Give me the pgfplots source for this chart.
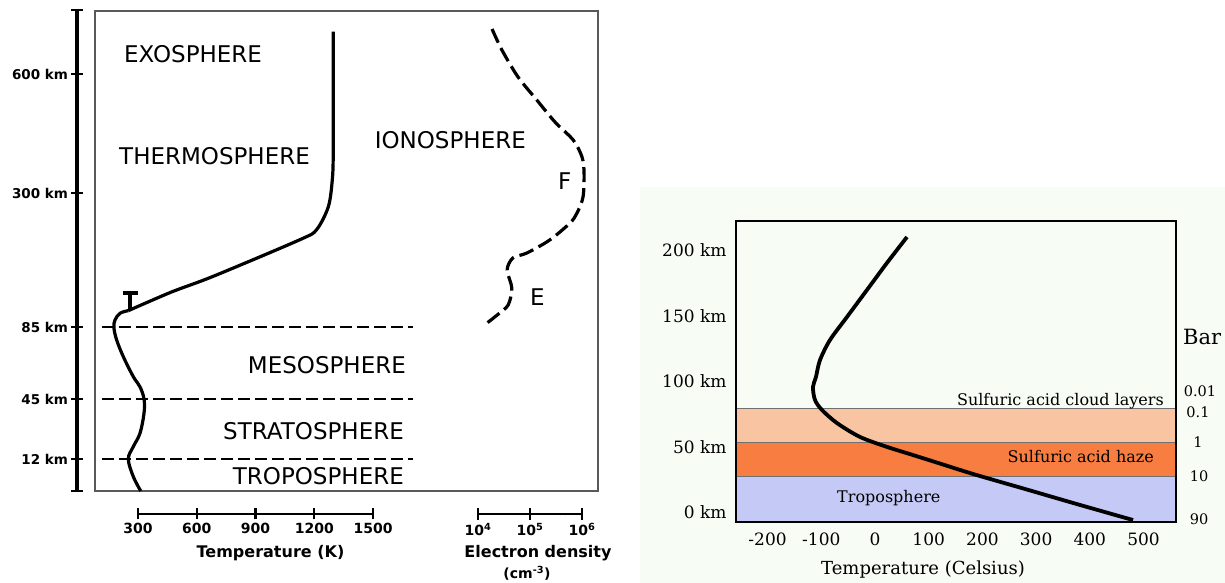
\documentclass[border=0pt]{standalone}
\usepackage{pgfplots}
\pgfplotsset{compat=1.18}
\usepackage{fontspec}
\setmainfont{DejaVu Sans}
\newfontfamily\dserif{DejaVu Serif}
\definecolor{boxgray}{HTML}{595959}
\definecolor{mint}{HTML}{F7FCF5}
\definecolor{peach}{HTML}{F9C4A2}
\definecolor{haze}{HTML}{F77D41}
\definecolor{tropo}{HTML}{C5C9F5}
\definecolor{bandline}{HTML}{707070}
% schematic (piecewise linear) altitude scale of the Earth panel, km -> position
\pgfplotsset{alttrafo/.style={y coord trafo/.code={\pgfmathparse{2.6667*min(##1,12)+1.81818*max(0,min(##1,45)-12)+1.8*max(0,min(##1,85)-45)+0.62326*max(0,min(##1,300)-85)+0.39667*max(0,##1-300)}}}}
\newcommand\bigfont{\fontsize{23}{27}\selectfont}
\begin{document}
\begin{tikzpicture}[x=1pt,y=1pt]
\path[use as bounding box, fill=white] (0,0) rectangle (1225,583);
\fill[mint] (640,0) rectangle (1225,396);

% ---------- Earth: temperature profile ----------
\begin{axis}[at={(95pt,92pt)}, anchor=south west, scale only axis,
  width=503pt, height=480pt, xmin=80.4, xmax=2649, alttrafo, ymin=0, ymax=758.8,
  xtick=\empty, ytick=\empty, axis line style={draw=boxgray, line width=2.2pt}, clip=false]
\addplot[black, line width=2pt, dash pattern=on 12pt off 5pt] coordinates {(116,85) (1704,85)};
\addplot[black, line width=2pt, dash pattern=on 12pt off 5pt] coordinates {(116,45) (1704,45)};
\addplot[black, line width=2pt, dash pattern=on 12pt off 5pt] coordinates {(116,12) (1704,12)};
\addplot[black, line width=3.2pt, smooth, tension=0.6] coordinates {
 (314,0) (276,5.4) (250.5,12) (276,18.8) (310,26.1) (330.6,37.1) (330.6,45)
 (310,51.8) (276,57.4) (225,68.5) (191,77.8) (177,84.6) (182.6,96.2) (208,107) (250.5,111.2)};
\addplot[black, line width=3.2pt, smooth, tension=0.5] coordinates {
 (250.5,111.2) (470,141) (688,166.8) (1127,225.1) (1212,241.2) (1272,278) (1292,332.8) (1297,408.4) (1297,706.6)};
\addplot[black, line width=4pt] coordinates {(259,111.2) (259,139.6)};
\addplot[black, line width=4pt] coordinates {(221,139.6) (298,139.6)};
\end{axis}

% ---------- Earth: electron density ----------
\begin{axis}[at={(95pt,92pt)}, anchor=south west, scale only axis,
  width=503pt, height=480pt, xmode=log, xmin=4.315e-4, xmax=2.031e6, alttrafo, ymin=0, ymax=758.8, hide axis]
\addplot[black, line width=3.2pt, smooth, dash pattern=on 15pt off 6pt] coordinates {
 (18620,713.4) (28840,660.4) (58880,592.4) (134900,534.5) (302000,479) (676100,433.6)
 (1000000,390.8) (1096000,350.4) (1047000,293.6) (802000,267.9) (588800,251.9) (239900,224.6)
 (87100,203.7) (46770,195.7) (36310,176.5) (44670,147.6) (38020,120.3) (23440,104.3) (12590,86.6)};
\end{axis}

% ---------- Earth: altitude scale ----------
\begin{axis}[at={(77pt,92pt)}, anchor=south west, scale only axis, width=10pt, height=481pt,
  xmin=0, xmax=1, alttrafo, ymin=0, ymax=761.3,
  axis x line=none, axis y line*=left, y axis line style={line width=4pt},
  ytick={12,45,85,300,600}, yticklabels={12 km,45 km,85 km,300 km,600 km},
  extra y ticks={0,761.3}, extra y tick labels={},
  major tick length=11pt, ytick align=center, tick style={line width=2.4pt, black},
  yticklabel style={font=\bfseries\fontsize{13.5}{16}\selectfont}]
\end{axis}

% ---------- Earth: temperature scale ----------
\begin{axis}[at={(138pt,69pt)}, anchor=south west, scale only axis, width=235pt, height=10pt,
  xmin=300, xmax=1500, ymin=0, ymax=1, axis y line=none, axis x line*=bottom,
  x axis line style={line width=2.6pt},
  xtick={300,600,900,1200,1500}, xticklabels={300,600,900,1200,1500},
  major tick length=11pt, xtick align=center, tick style={line width=2.2pt, black},
  xticklabel style={font=\bfseries\fontsize{14}{17}\selectfont},
  xlabel={Temperature (K)},
  xlabel style={font=\bfseries\fontsize{16}{19}\selectfont, at={(axis description cs:0.5,0)}, anchor=base, yshift=-44pt, xshift=15pt}]
\end{axis}

% ---------- Earth: electron density scale ----------
\begin{axis}[at={(478pt,69pt)}, anchor=south west, scale only axis, width=104pt, height=10pt,
  xmode=log, xmin=1e4, xmax=1e6, ymin=0, ymax=1, axis y line=none, axis x line*=bottom,
  x axis line style={line width=2.6pt},
  xtick={1e4,1e5,1e6}, xticklabels={10\textsuperscript{4},10\textsuperscript{5},10\textsuperscript{6}},
  major tick length=11pt, xtick align=center, tick style={line width=2.2pt, black},
  xticklabel style={font=\bfseries\fontsize{14}{17}\selectfont},
  xlabel={Electron density},
  xlabel style={font=\bfseries\fontsize{16}{19}\selectfont, at={(axis description cs:0.5,0)}, anchor=base, yshift=-43pt, xshift=8pt}]
\end{axis}
\node[anchor=base, inner sep=0, font=\bfseries\fontsize{14}{17}\selectfont] at (527,4) {(cm\textsuperscript{-3})};

% Earth labels
\node[anchor=base west, inner sep=0, font=\bigfont] at (124,520.5) {EXOSPHERE};
\node[anchor=base west, inner sep=0, font=\bigfont] at (119,418) {THERMOSPHERE};
\node[anchor=base east, inner sep=0, font=\bigfont] at (526,434) {IONOSPHERE};
\node[anchor=base west, inner sep=0, font=\bigfont] at (558,393) {F};
\node[anchor=base west, inner sep=0, font=\bigfont] at (530,277.3) {E};
\node[anchor=base east, inner sep=0, font=\bigfont] at (406,209) {MESOSPHERE};
\node[anchor=base east, inner sep=0, font=\bigfont] at (404,143) {STRATOSPHERE};
\node[anchor=base east, inner sep=0, font=\bigfont] at (404,98) {TROPOSPHERE};

% ---------- Venus ----------
\begin{axis}[at={(736pt,61pt)}, anchor=south west, scale only axis, width=440pt, height=301pt,
  xmin=-258.8, xmax=560.5, ymin=-7.3, ymax=222.4, axis on top,
  axis line style={line width=2.4pt},
  xtick={-200,-100,0,100,200,300,400,500}, xticklabels={-200,-100,0,100,200,300,400,500},
  ytick={0,50,100,150,200}, yticklabels={0 km,50 km,100 km,150 km,200 km},
  major tick length=0pt,
  tick label style={font=\dserif\fontsize{17}{20}\selectfont},
  xticklabel style={yshift=-7pt}, yticklabel style={xshift=-6pt},
  xlabel={Temperature (Celsius)},
  xlabel style={font=\dserif\fontsize{18}{21}\selectfont, at={(axis description cs:0.5,0)}, anchor=base, yshift=-52pt, xshift=-33pt}]
\addplot[fill=peach, draw=none] coordinates {(-258.8,53) (560.5,53) (560.5,79) (-258.8,79)} -- cycle;
\addplot[fill=haze, draw=none] coordinates {(-258.8,27.8) (560.5,27.8) (560.5,53) (-258.8,53)} -- cycle;
\addplot[fill=tropo, draw=none] coordinates {(-258.8,-7.3) (560.5,-7.3) (560.5,27.8) (-258.8,27.8)} -- cycle;
\addplot[bandline, line width=1pt] coordinates {(-258.8,79) (560.5,79)};
\addplot[bandline, line width=1pt] coordinates {(-258.8,53) (560.5,53)};
\addplot[bandline, line width=1pt] coordinates {(-258.8,27.8) (560.5,27.8)};
\addplot[black, line width=3.8pt, smooth] coordinates {
 (59.6,210.2) (22.3,190.4) (-14.9,169.8) (-52.1,149.2) (-83.8,131.6) (-102.4,116.3)
 (-109.9,103.4) (-115.5,95.7) (-111.7,85.8) (-98.7,78.2) (-70.8,68.2) (-27.9,57.6)
 (22.3,50) (70.8,43.8) (121,37.3) (186.2,28.9) (279.3,17.9) (372.4,6.8) (480.4,-5.8)};
\end{axis}

\node[anchor=base east, inner sep=0, font=\dserif\fontsize{16}{19}\selectfont] at (1164,177) {Sulfuric acid cloud layers};
\node[anchor=base east, inner sep=0, font=\dserif\fontsize{16}{19}\selectfont] at (1154,120) {Sulfuric acid haze};
\node[anchor=base west, inner sep=0, font=\dserif\fontsize{16}{19}\selectfont] at (837,80) {Troposphere};
\node[anchor=base west, inner sep=0, font=\dserif\fontsize{21}{24}\selectfont] at (1183,238) {Bar};
\node[anchor=base, inner sep=0, font=\dserif\fontsize{14.5}{17}\selectfont] at (1200,186) {0.01};
\node[anchor=base, inner sep=0, font=\dserif\fontsize{14.5}{17}\selectfont] at (1198,165) {0.1};
\node[anchor=base, inner sep=0, font=\dserif\fontsize{14.5}{17}\selectfont] at (1198,135) {1};
\node[anchor=base, inner sep=0, font=\dserif\fontsize{14.5}{17}\selectfont] at (1199,101) {10};
\node[anchor=base, inner sep=0, font=\dserif\fontsize{14.5}{17}\selectfont] at (1199,58) {90};
\end{tikzpicture}
\end{document}
